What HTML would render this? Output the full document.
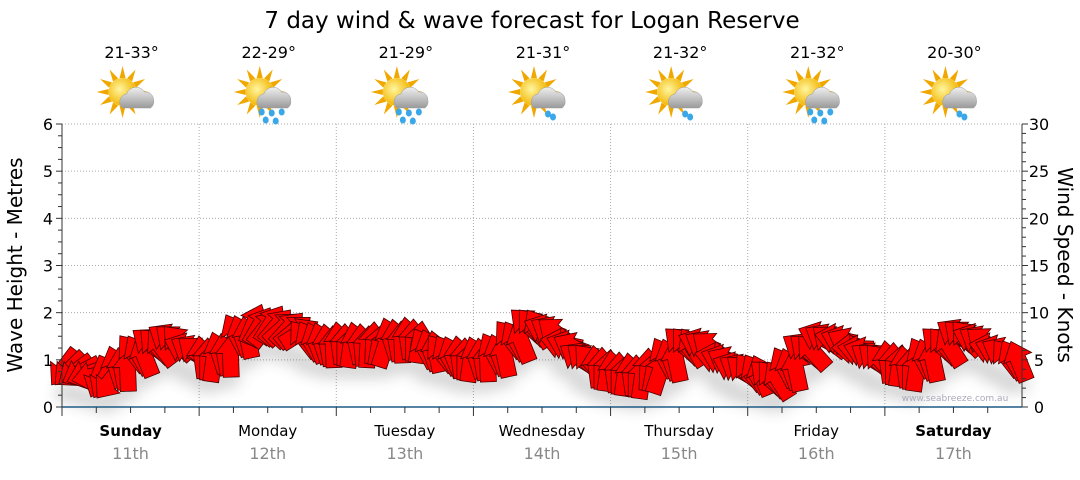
<!DOCTYPE html>
<html><head><meta charset="utf-8"><style>
body{margin:0;background:#fff;}
svg text{font-family:"DejaVu Sans","Liberation Sans",sans-serif;}
</style></head><body>
<svg id="c" width="1080" height="475" xmlns="http://www.w3.org/2000/svg">
<defs>
<filter id="sh" x="-50%" y="-50%" width="200%" height="200%"><feGaussianBlur stdDeviation="7"/></filter>
<radialGradient id="sun" cx="0.4" cy="0.4" r="0.6"><stop offset="0" stop-color="#fff6a0"/><stop offset="1" stop-color="#f2b400"/></radialGradient>
<linearGradient id="cloud" x1="0" y1="0" x2="0" y2="1"><stop offset="0" stop-color="#f0f0f0"/><stop offset="1" stop-color="#9a9a9a"/></linearGradient>
</defs>
<text x="532" y="28" font-size="23" text-anchor="middle" fill="#000">7 day wind &amp; wave forecast for Logan Reserve</text>
<g id="grid"></g>
<g id="shadow" filter="url(#sh)" opacity="0.22"></g>
<g id="arrows"></g>
<g id="axes"></g>
<g id="icons"></g>
<text x="955" y="401" font-size="9" fill="#aab" text-anchor="middle">www.seabreeze.com.au</text>
<text transform="translate(22,265) rotate(-90)" font-size="20" text-anchor="middle">Wave Height - Metres</text>
<text transform="translate(1058,265) rotate(90)" font-size="20" text-anchor="middle">Wind Speed - Knots</text>
</svg>
<script>
const days=["Sunday","Monday","Tuesday","Wednesday","Thursday","Friday","Saturday"];
const dates=["11th","12th","13th","14th","15th","16th","17th"];
const temps=["21-33°","22-29°","21-29°","21-31°","21-32°","21-32°","20-30°"];
const rain=[0,2,2,1,1,2,1];
const waveTicks=[0,1,2,3,4,5,6];
const windTicks=[0,5,10,15,20,25,30];
const windSpeed=[4,3.5,3,4,5.5,6.5,7,6, 5,5.5,7.5,8.5,8.5,8,7,6.5, 6.5,6.5,6.5,7,7,6,5.5,5, 5,5.5,7,8.5,8,6.5,5,4, 3.5,3.2,3.7,5,6.5,6.5,5,4, 3.5,3,4,6,7.2,7,6,5, 4.5,4,5,6.5,7.5,7,6,5];
const windDir=[135,160,120,-100,-120,-135,-140,-150, -90,-100,-110,-60,-50,-40,-120,-100, -90,-95,-80,-100,-90,-110,-120,-90, -100,-110,-120,-130,-150,-160,-140,-90, -90,-90,-80,-110,-130,-150,-160,-150, -120,-130,-110,-140,-150,-160,-170,-140, -90,-90,-110,-130,-140,-150,-160,-120];
const X0=62,X1=1022,Y0=407,Y1=124;
const dayW=(X1-X0)/7;
const xT=h=>X0+h/168*(X1-X0);
const yW=m=>Y0-(m/6)*(Y0-Y1);
const yK=k=>Y0-(k/30)*(Y0-Y1);
const NS="http://www.w3.org/2000/svg";
function mk(t,a,p){const e=document.createElementNS(NS,t);for(const k in a)e.setAttribute(k,a[k]);p.appendChild(e);return e;}
const grid=document.getElementById('grid'),axes=document.getElementById('axes');
waveTicks.forEach(v=>{if(v>0){const l=mk('line',{x1:X0,x2:X1,y1:yW(v),y2:yW(v),stroke:'#aaa','stroke-dasharray':'1,2'},grid);}
 const t=mk('text',{x:48,y:yW(v)+6,'font-size':16,'text-anchor':'middle'},axes);t.textContent=v;
 });
windTicks.forEach(v=>{const t=mk('text',{x:1039,y:yK(v)+6,'font-size':16,'text-anchor':'middle'},axes);t.textContent=v;
 });
for(let i=0;i<=24;i++){const y=yW(i/4);mk('line',{x1:X0-(i%4?4:6),x2:X0,y1:y,y2:y,stroke:'#333'},axes);}
for(let i=0;i<=30;i++){const y=yK(i);mk('line',{x1:X1,x2:X1+(i%5?4:6),y1:y,y2:y,stroke:'#333'},axes);}
mk('line',{x1:X0,x2:X0,y1:Y1,y2:Y0,stroke:'#333'},axes);
mk('line',{x1:X1,x2:X1,y1:Y1,y2:Y0,stroke:'#333'},axes);
mk('line',{x1:X0,x2:X1,y1:Y0,y2:Y0,stroke:'#1f5a85','stroke-width':1.5},axes);
for(let d=0;d<7;d++){
 if(d>0){const l=mk('line',{x1:X0+d*dayW,x2:X0+d*dayW,y1:Y1,y2:Y0,stroke:'#aaa','stroke-dasharray':'1,2'},grid);}
 for(let q=0;q<4;q++){const x=X0+d*dayW+q*dayW/4;mk('line',{x1:x,x2:x,y1:Y0,y2:Y0+(q?6:9),stroke:'#333'},axes);}
 const cx=X0+(d+0.5)*dayW;
 const n=mk('text',{x:cx,y:436,'font-size':15,'text-anchor':'middle','font-weight':(d==0||d==6)?'bold':'normal'},axes);n.textContent=days[d];
 
 const dt=mk('text',{x:cx,y:459,'font-size':16,'text-anchor':'middle',fill:'#888'},axes);dt.textContent=dates[d];
 
 const tt=mk('text',{x:cx+1,y:58,'font-size':16,'text-anchor':'middle'},axes);tt.textContent=temps[d];
 
 const g=mk('g',{transform:`translate(${cx},96)`},document.getElementById('icons'));
 
 for(let r=0;r<12;r++){const a=r*30;mk('polygon',{points:'-3,-14 0,-26 3,-14',fill:'#f0a800',transform:`translate(-8,-4) rotate(${a})`},g);}
 mk('circle',{cx:-8,cy:-4,r:14,fill:'url(#sun)'},g);
 mk('path',{d:'M-8,12 a8,8 0 0 1 4,-14 a10,10 0 0 1 18,-2 a8,8 0 0 1 9,8 a8,8 0 0 1 -3,8 z',fill:'url(#cloud)',stroke:'#999','stroke-width':0.5},g);
 if(rain[d]){const pts=rain[d]==2?[[-6,16],[4,17],[14,16],[-2,24],[8,25]]:[[6,18],[11,21]];
  pts.forEach(p=>mk('ellipse',{cx:p[0],cy:p[1],rx:3,ry:3.5,fill:'#3aa8e8'},g));}
}
const arrows=document.getElementById('arrows'),sh=document.getElementById('shadow');
const shape='M-20,-8 L4,-8 L4,-15 L22,0 L4,15 L4,8 L-20,8 Z';
windSpeed.forEach((v,i)=>{const y=yK(v);
 for(let s=0;s<3;s++){const x=xT(i*3+s+0.5);
  mk('ellipse',{cx:x,cy:y+24,rx:10,ry:9,fill:'#444'},sh);
  const p=mk('path',{d:shape,fill:'#f00',stroke:'#400','stroke-width':0.8,transform:`translate(${x},${y+(s-1)*2}) rotate(${windDir[i]+(s-1)*8})`},arrows);
  }
});
</script>
</body></html>
